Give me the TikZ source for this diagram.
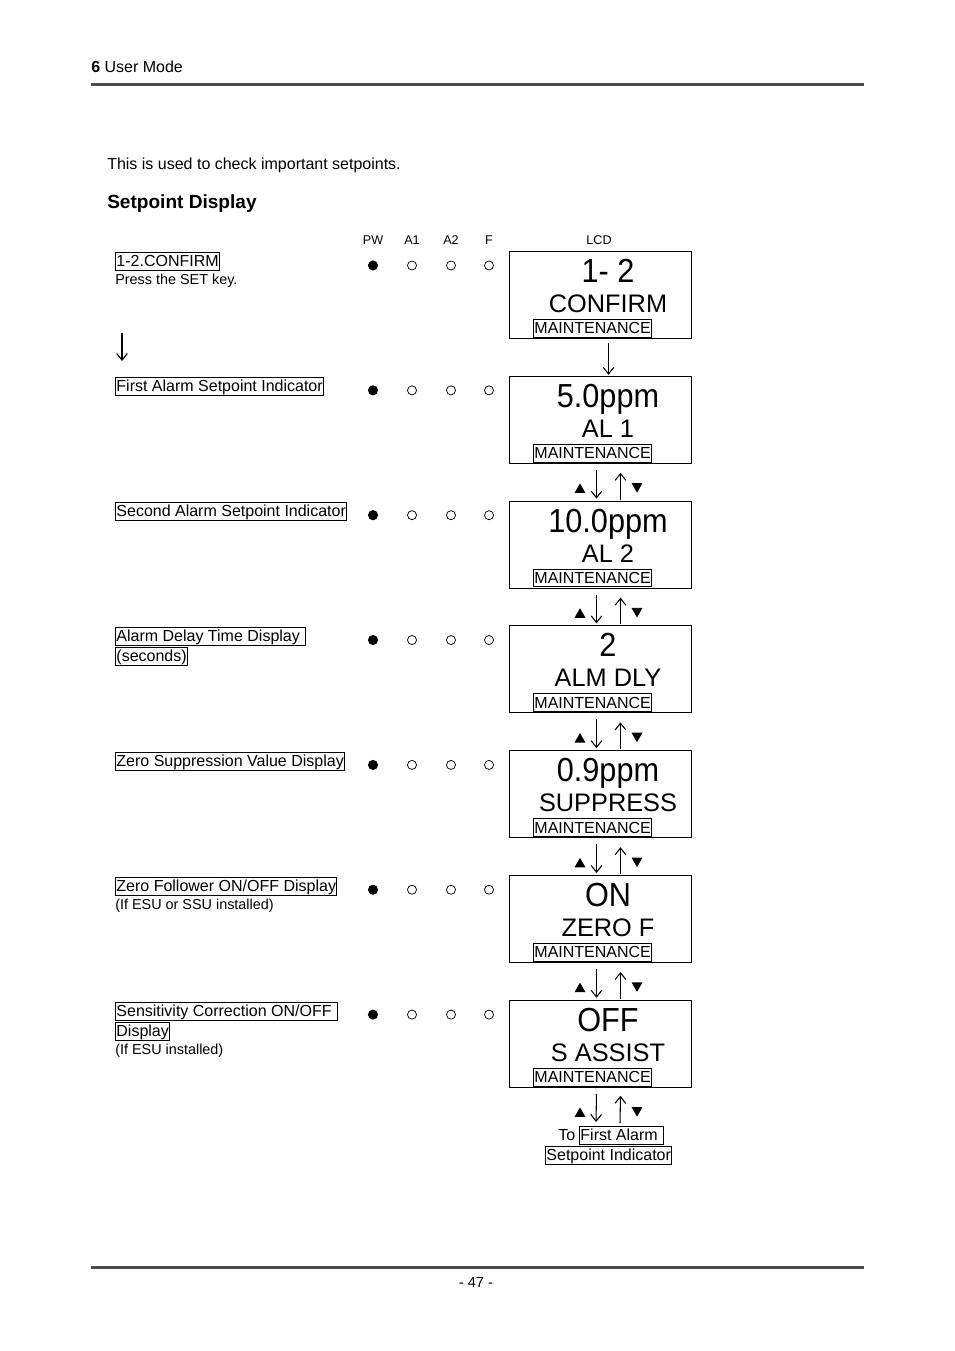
\documentclass[tikz,border=0pt]{standalone}
\usepackage{fontspec}
\setmainfont{Liberation Sans}
\newfontfamily\lcdbig[FakeStretch=0.92]{Liberation Sans}
\usetikzlibrary{arrows.meta,calc,shapes.geometric}
\begin{document}
\begin{tikzpicture}[x=0.75pt,y=-0.75pt,
  txt/.style={anchor=base west,inner sep=0pt,font=\fontsize{12}{14}\selectfont},
  small/.style={anchor=base west,inner sep=0pt,font=\fontsize{10.8}{12}\selectfont},
  colhead/.style={anchor=base,inner sep=0pt,font=\fontsize{9.5}{11}\selectfont},
  lbl/.style={draw,line width=0.75pt,inner xsep=0.7pt,inner ysep=0pt,text height=10.86pt,text depth=2.54pt,anchor=north west,font=\fontsize{12}{14}\selectfont},
  lcdbox/.style={draw,line width=0.75pt,minimum width=136.5pt,minimum height=65.25pt,anchor=north west,inner sep=0pt},
  lcdA/.style={anchor=base,inner sep=0pt,font=\lcdbig\fontsize{25}{29}\selectfont},
  lcdB/.style={anchor=base,inner sep=0pt,font=\fontsize{19}{22}\selectfont},
  ledon/.style={circle,fill=black,minimum size=7.6pt,inner sep=0pt},
  ledoff/.style={circle,draw,line width=0.55pt,minimum size=6.8pt,inner sep=0pt},
  arr/.style={line width=0.8pt,-{Straight Barb[length=5pt,width=8pt]}},
  triup/.style={regular polygon,regular polygon sides=3,fill=black,minimum size=9.5pt,inner sep=0pt},
  tridn/.style={regular polygon,regular polygon sides=3,shape border rotate=180,fill=black,minimum size=9.5pt,inner sep=0pt},
  rule/.style={line width=2.25pt,draw=black!70}]
\useasboundingbox (0,0) rectangle (954,1351);
% header / footer
\node[txt] (hdr) at (91,72.5) {\textbf{6} User Mode};
\coordinate (r1a) at (91,84.5); \coordinate (r1b) at (864,84.5);
\draw[rule] (r1a) -- (r1b);
\coordinate (r2a) at (91,1267); \coordinate (r2b) at (864,1267);
\draw[rule] (r2a) -- (r2b);
\node[anchor=base,inner sep=0pt,font=\fontsize{11}{13}\selectfont] (pg) at (476,1287.5) {- 47 -};
\node[txt] (intro) at (107,169.5) {This is used to check important setpoints.};
\node[anchor=base west,inner sep=0pt,font=\bfseries\fontsize{14.3}{17}\selectfont] (title) at (107,209) {Setpoint Display};
% column heads
\node[colhead] (hPW) at (373,245) {PW};
\node[colhead] (hA1) at (412,245) {A1};
\node[colhead] (hA2) at (451,245) {A2};
\node[colhead] (hF) at (489,245) {F};
\node[colhead] (hLCD) at (599,245) {LCD};
% left labels
\node[lbl] (L1) at (115,252) {1-2.CONFIRM};
\node[small] (L1s) at (115,285) {Press the SET key.};
\node[lbl] (L2) at (115,377) {First Alarm Setpoint Indicator};
\node[lbl] (L3) at (115,502) {Second Alarm Setpoint Indicator};
\node[lbl] (L4) at (115,627) {Alarm Delay Time Display\hspace*{0.28em}};
\node[lbl] (L4b) at (115,647) {(seconds)};
\node[lbl] (L5) at (115,752) {Zero Suppression Value Display};
\node[lbl] (L6) at (115,877) {Zero Follower ON/OFF Display};
\node[small] (L6s) at (115,909.5) {(If ESU or SSU installed)};
\node[lbl] (L7) at (115,1002) {Sensitivity Correction ON/OFF\hspace*{0.28em}};
\node[lbl] (L7b) at (115,1022) {Display};
\node[small] (L7s) at (115,1054.5) {(If ESU installed)};
\coordinate (la) at (122,333); \coordinate (lb) at (122,361);
\draw[arr] (la) -- (lb);
% indicators
\foreach \k in {1,...,7}{
  \pgfmathsetmacro\Y{265.5+124.85*(\k-1)}
  \node[ledon] (pw\k) at (373,\Y) {};
  \node[ledoff] (aa\k) at (412,\Y) {};
  \node[ledoff] (ab\k) at (451,\Y) {};
  \node[ledoff] (ff\k) at (489,\Y) {};
}
% LCD boxes
\foreach \k/\a/\b in {1/{1- 2}/{CONFIRM},2/{5.0ppm}/{AL 1},3/{10.0ppm}/{AL 2},4/{2}/{ALM DLY},5/{0.9ppm}/{SUPPRESS},6/{ON}/{ZERO F},7/{OFF}/{S ASSIST}}{
  \pgfmathsetmacro\T{251+124.8*(\k-1)}
  \node[lcdbox] (lcd\k) at (509,\T) {};
  \node[lcdA] (lcdA\k) at (608,\T+31.5) {\a};
  \node[lcdB] (lcdB\k) at (608,\T+61.5) {\b};
  \node[lbl] (m\k) at (533,\T+68) {MAINTENANCE};
}
% arrows between LCDs
\draw[arr] ($(lcd1.south)+(8,4)$) -- ($(lcd2.north)+(8,-1)$);
\foreach \k/\n in {2/3,3/4,4/5,5/6,6/7}{
  \draw[arr] ($(lcd\k.south)+(-4,6)$) -- ($(lcd\n.north)+(-4,-2)$);
  \draw[arr] ($(lcd\n.north)+(20,-1)$) -- ($(lcd\k.south)+(20,9)$);
  \node[triup] (tu\k) at ($(lcd\k.south)+(-20.5,26)$) {};
  \node[tridn] (td\k) at ($(lcd\k.south)+(36.5,22.5)$) {};
}
% final
\node[txt] (to) at (558,1140.5) {To};
\node[lbl] (fa) at (579,1126) {First Alarm\hspace*{0.28em}};
\node[lbl] (si) at (545,1146) {Setpoint Indicator};
\draw[arr] ($(lcd7.south)+(-4,6)$) -- ($(fa.north west)+(17,-4)$);
\draw[arr] ($(fa.north west)+(41,-3)$) -- ($(lcd7.south)+(20,8)$);
\node[triup] (tu7) at ($(lcd7.south)+(-20.5,26)$) {};
\node[tridn] (td7) at ($(lcd7.south)+(36.5,22.5)$) {};
\end{tikzpicture}
\end{document}
